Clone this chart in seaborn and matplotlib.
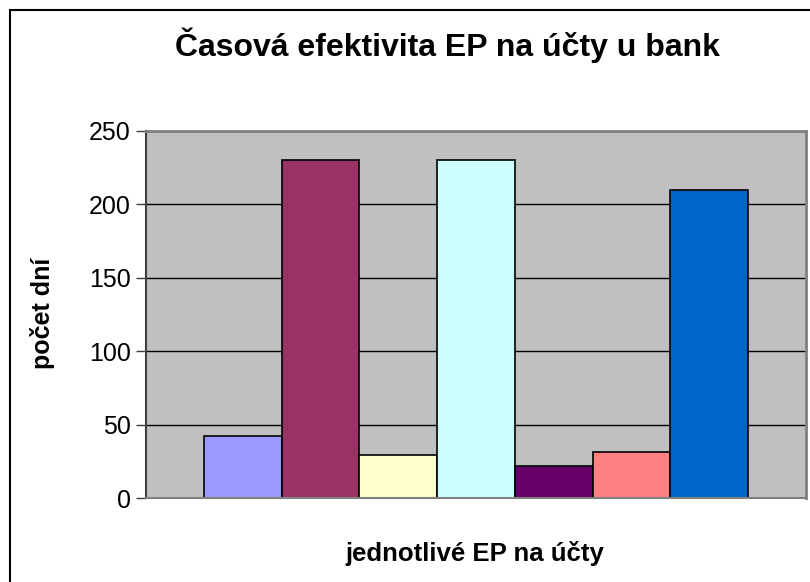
import matplotlib
matplotlib.use("Agg")
import matplotlib.pyplot as plt
import seaborn as sns
import pandas as pd
from matplotlib.patches import Rectangle

# data
series = ["EP 1", "EP 2", "EP 3", "EP 4", "EP 5", "EP 6", "EP 7"]
days = [42, 230, 29, 230, 22, 31, 210]
colors = ["#9999FF", "#993366", "#FFFFCC", "#CCFFFF", "#660066", "#FF8080", "#0066CC"]
y_ticks = [0, 50, 100, 150, 200, 250]

title = "Časová efektivita EP na účty u bank"
x_title = "jednotlivé EP na účty"
y_title = "počet dní"

df = pd.DataFrame({"group": [""] * len(series), "series": series, "days": days})

sns.set_style("white")
plt.rcParams["font.family"] = ["Liberation Sans", "DejaVu Sans"]
plt.rcParams["text.color"] = "black"
plt.rcParams["axes.labelcolor"] = "black"
plt.rcParams["ytick.color"] = "black"

fig = plt.figure(figsize=(8.1, 5.82), dpi=100)
ax = fig.add_axes([146 / 810, 1 - 498 / 582, (806 - 146) / 810, (498 - 131) / 582])
ax.set_facecolor("#C0C0C0")

sns.barplot(data=df, x="group", y="days", hue="series", palette=colors, dodge=True,
            saturation=1, width=0.824, edgecolor="black", linewidth=1.2,
            legend=False, ax=ax)

ax.set_xlim(-0.5, 0.5)
ax.set_ylim(0, 250)
ax.set_yticks(y_ticks)
ax.set_xticks([])
ax.set_axisbelow(True)
ax.yaxis.grid(True, color="black", linewidth=1)
ax.tick_params(axis="y", direction="out", length=7, width=1, color="#404040",
               labelsize=18, labelcolor="black", pad=4, left=True)

for side in ["top", "right"]:
    ax.spines[side].set_color("#808080")
    ax.spines[side].set_linewidth(2)
ax.spines["left"].set_color("#404040")
ax.spines["left"].set_linewidth(1.5)
ax.spines["bottom"].set_color("#808080")
ax.spines["bottom"].set_linewidth(1.5)

ax.set_xlabel(x_title, fontsize=18.5, fontweight="bold", color="black")
ax.xaxis.set_label_coords(0.499, -0.118)
ax.set_ylabel(y_title, fontsize=18, fontweight="bold", color="black")
ax.yaxis.set_label_coords(-0.138, 0.504)

fig.text(0.552, 0.923, title, ha="center", va="center", fontsize=23,
         fontweight="bold", color="black")

# chart area frame, cut off on the right and bottom
fig.patches.append(Rectangle((10 / 810, -0.1), 1.2, 1.1 - 10 / 582,
                             transform=fig.transFigure, fill=False,
                             edgecolor="black", linewidth=1.5))

fig.savefig("out.png", dpi=100)
